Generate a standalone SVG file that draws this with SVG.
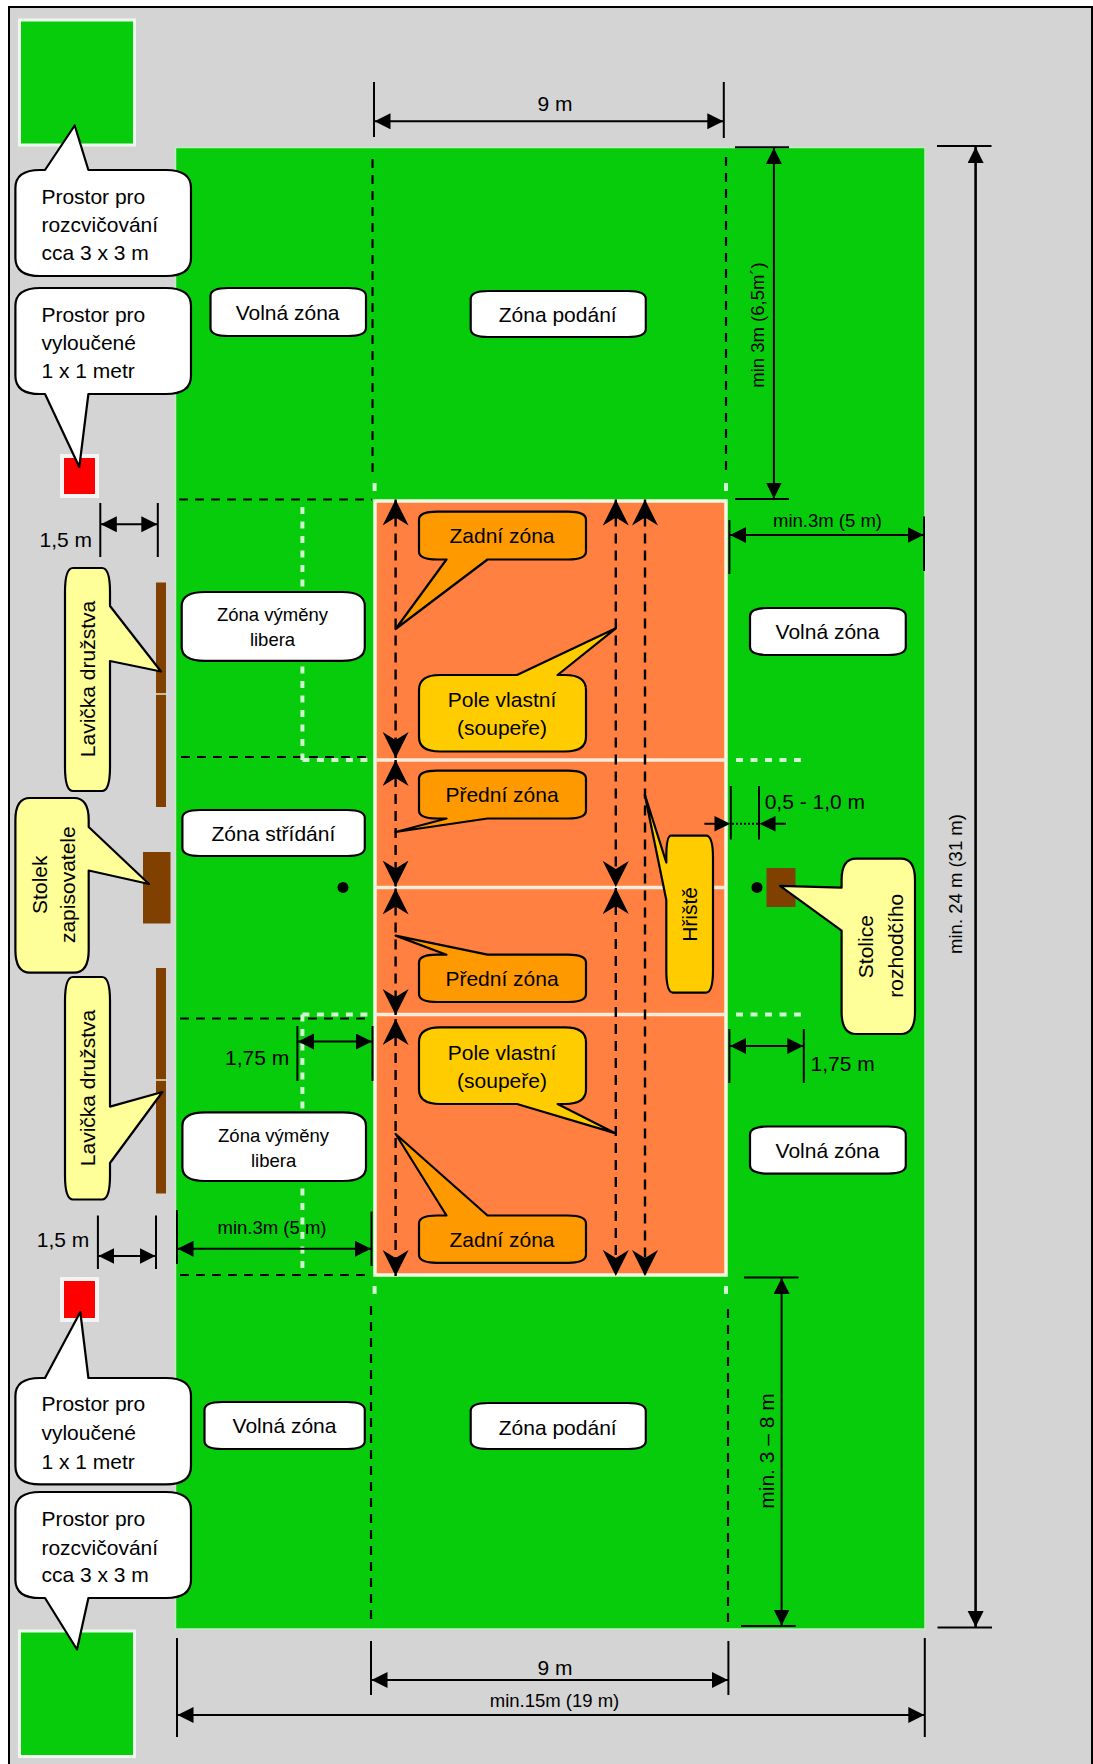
<svg xmlns="http://www.w3.org/2000/svg" width="1093" height="1764" viewBox="0 0 1093 1764">
<style>
text{font-family:"Liberation Sans",Arial,sans-serif;font-size:21px;fill:#000}
.s{font-size:18.5px}
.m{text-anchor:middle}
.w{fill:#fff}.y{fill:#ffff99}.o{fill:#ff9900}.g{fill:#ffcc00}
.c path{stroke:#000;stroke-width:2.2;stroke-linejoin:round}
.d{fill:none;stroke:#000;stroke-width:2.2;stroke-dasharray:9 7}
.p{fill:none;stroke:#000;stroke-width:2.4;stroke-dasharray:10 7}
.wd{fill:none;stroke:#d0f5d0;stroke-width:4;stroke-dasharray:7 7.5}
.t{fill:none;stroke:#000;stroke-width:2}
.a{fill:none;stroke:#000;stroke-width:2;marker-start:url(#tri);marker-end:url(#tri)}
.st{fill:none;marker-start:url(#ste);marker-end:url(#ste)}
.br{fill:#804000}
</style>
<defs>
<marker id="tri" markerUnits="userSpaceOnUse" markerWidth="17" markerHeight="17" refX="16" refY="8" orient="auto-start-reverse"><path d="M0,0L16,8L0,16Z" fill="#000"/></marker>
<marker id="ste" markerUnits="userSpaceOnUse" markerWidth="27" markerHeight="26" refX="26" refY="13" orient="auto-start-reverse"><path d="M0,0L26,13L0,26L8,13Z" fill="#000"/></marker>
</defs>
<rect x="0" y="0" width="1093" height="1764" fill="#fff"/>
<rect x="9" y="7" width="1083" height="1765" fill="#d4d4d4" stroke="#000" stroke-width="2"/>
<g id="warmup-top"><rect x="19.5" y="20" width="115" height="125" fill="#06cc0b" stroke="#eef8ee" stroke-width="3"/></g>
<g id="warmup-bottom"><rect x="19.5" y="1631" width="115" height="125.5" fill="#06cc0b" stroke="#eef8ee" stroke-width="3"/></g>
<g id="field"><rect x="175.5" y="147.5" width="749.5" height="1481.5" fill="#06cc0b" stroke="#c4eac4" stroke-width="1.5"/></g>
<g id="court">
<rect x="375" y="501" width="351" height="774" fill="#ff8040" stroke="#f4f8e4" stroke-width="3.5"/>
<path d="M375,760H726M375,887.5H726M375,1014.5H726" fill="none" stroke="#f6ecdc" stroke-width="3.5"/>
</g>
<g id="excluded-top"><rect x="62" y="456" width="35" height="40" fill="#ff0000" stroke="#f4f4f4" stroke-width="4"/></g>
<g id="excluded-bottom"><rect x="62" y="1279" width="35" height="41" fill="#ff0000" stroke="#f4f4f4" stroke-width="4"/></g>
<g id="bench-top"><rect class="br" x="156" y="582.5" width="10" height="224.5"/><path d="M155,694H167" stroke="#e8e0d0" stroke-width="1.5"/></g>
<g id="bench-bottom"><rect class="br" x="156" y="968" width="10" height="225.5"/><path d="M155,1080H167" stroke="#e8e0d0" stroke-width="1.5"/></g>
<g id="scorer-table"><rect class="br" x="143" y="852" width="27.5" height="71.5"/></g>
<g id="referee-chair"><rect class="br" x="766.5" y="868" width="29" height="39"/></g>
<g id="post-left"><circle cx="343" cy="887.4" r="5.5" fill="#000"/></g>
<g id="post-right"><circle cx="757" cy="887.4" r="5.5" fill="#000"/></g>

<g id="connectors">
<path class="d" d="M372.5,159V478M726,157V476M371,1306V1623M728,1309V1625"/>
<path class="d" d="M179,499.5H372M181,757H368M180,1018.5H368M180,1275H372"/>
<path class="wd" d="M302.4,507V760M302.4,760H368M302.4,1014.4H368M302.4,1014.4V1269M736,760H801M736,1014.4H801"/>
<path d="M374.6,483V491M726,483V491M374.6,1286V1294M726,1286V1294" stroke="#d0f5d0" stroke-width="4" fill="none"/>
<path class="p" d="M395.6,499.5V758"/><path class="st" d="M395.6,499.5V758"/>
<path class="p" d="M395.6,760V886.5"/><path class="st" d="M395.6,760V886.5"/>
<path class="p" d="M395.6,888.5V1015"/><path class="st" d="M395.6,888.5V1015"/>
<path class="p" d="M395.6,1019V1276"/><path class="st" d="M395.6,1019V1276"/>
<path class="p" d="M615.8,499.5V887"/><path class="st" d="M615.8,499.5V887"/>
<path class="p" d="M615.8,888V1276"/><path class="st" d="M615.8,888V1276"/>
<path class="p" d="M645,499.5V1276"/><path class="st" d="M645,499.5V1276"/>
<path class="t" d="M374,82V137M723.8,82V138"/>
<path class="a" d="M374.5,121.3H723.3"/>
<path class="t" d="M735,147.3H789M735,499H789"/>
<path class="a" d="M773.9,148V498.5"/>
<path class="t" d="M729.4,520V574M924,516.5V571"/>
<path class="a" d="M730,535H923.5"/>
<path class="t" d="M937,146H991.5M937.5,1627.6H992"/>
<path class="a" d="M975.6,147V1627" style="stroke-width:2.6"/>
<path class="t" d="M744,1277.5H798.5M741,1626H795.7"/>
<path class="a" d="M781.6,1278V1625.5"/>
<path class="t" d="M100.3,503V557M157.8,503V557"/>
<path class="a" d="M100.8,524.3H157.3"/>
<path class="t" d="M97.9,1215.5V1269M156,1215.5V1269"/>
<path class="a" d="M98.4,1256H155.5"/>
<path class="t" d="M297.4,1026V1081M372.5,1026V1081"/>
<path class="a" d="M298,1041.6H372"/>
<path class="t" d="M177,1210V1264M371.5,1211.5V1266"/>
<path class="a" d="M177.5,1248.8H371"/>
<path class="t" d="M729.4,1029V1083M803.8,1029V1083"/>
<path class="a" d="M730,1046H803.3"/>
<path class="t" d="M371,1641V1695M728.4,1641V1695M177,1638V1737M924.8,1638V1737"/>
<path class="a" d="M371.5,1680H728"/>
<path class="a" d="M177.5,1715H924.3"/>
<path class="t" d="M730.8,786V839.5M759,786V839.5"/>
<path class="t" d="M704.4,823.8H715M775,823.8H786"/>
<path fill="#000" d="M730.3,823.8L714.5,816V831.5Z M759.5,823.8L775.5,816V831.5Z"/>
<path d="M732,823.8H758" stroke="#000" stroke-width="2" stroke-dasharray="2 2" fill="none"/>
</g>

<g id="dim-labels">
<text x="537.5" y="111">9 m</text>
<text x="555" y="1674.5" class="m">9 m</text>
<text x="554.5" y="1707" class="s m">min.15m (19 m)</text>
<text x="827.5" y="527" class="s m">min.3m (5 m)</text>
<text x="272" y="1234.4" class="s m">min.3m (5 m)</text>
<text x="39.6" y="547">1,5 m</text>
<text x="36.8" y="1246.5">1,5 m</text>
<text x="225" y="1065">1,75 m</text>
<text x="810.5" y="1071.4">1,75 m</text>
<text x="764.7" y="809">0,5 - 1,0 m</text>
<text class="s m" transform="translate(764,325) rotate(-90)">min 3m (6,5m´)</text>
<text class="s m" transform="translate(962,884) rotate(-90)">min. 24 m (31 m)</text>
<text class="m" transform="translate(773.5,1451) rotate(-90)">min. 3 – 8 m</text>
</g>

<g class="c">
<g id="callout-warmup-top"><path class="w" d="M40,170H45L74.7,125.5L88.4,170H166Q191,170 191,188V258Q191,276 166,276H40Q15.4,276 15.4,258V188Q15.4,170 40,170Z"/>
<text x="41.4" y="204">Prostor pro</text><text x="41.4" y="232">rozcvičování</text><text x="41.4" y="260">cca 3 x 3 m</text></g>
<g id="callout-excluded-top"><path class="w" d="M40,288H166Q191,288 191,306V376Q191,394 166,394H88.4L79.3,467L45,394H40Q15.4,394 15.4,376V306Q15.4,288 40,288Z"/>
<text x="41.4" y="322">Prostor pro</text><text x="41.4" y="350">vyloučené</text><text x="41.4" y="378">1 x 1 metr</text></g>
<g id="callout-excluded-bottom"><path class="w" d="M40,1378H45L80.3,1312L88.4,1378H166Q191,1378 191,1396V1466Q191,1484.4 166,1484.4H40Q15.4,1484.4 15.4,1466V1396Q15.4,1378 40,1378Z"/>
<text x="41.4" y="1411">Prostor pro</text><text x="41.4" y="1439.7">vyloučené</text><text x="41.4" y="1468.5">1 x 1 metr</text></g>
<g id="callout-warmup-bottom"><path class="w" d="M40,1492H166Q191,1492 191,1510V1580Q191,1598 166,1598H88.4L77,1649.5L45,1598H40Q15.4,1598 15.4,1580V1510Q15.4,1492 40,1492Z"/>
<text x="41.4" y="1526">Prostor pro</text><text x="41.4" y="1554.5">rozcvičování</text><text x="41.4" y="1582">cca 3 x 3 m</text></g>

<g id="label-volna-tl"><path class="w" d="M228,288H348Q366,288 366,296V328Q366,336 348,336H228Q210.5,336 210.5,328V296Q210.5,288 228,288Z"/><text class="m" x="287.6" y="319.6">Volná zóna</text></g>
<g id="label-podani-t"><path class="w" d="M488,291H628Q645.8,291 645.8,299V329Q645.8,337 628,337H488Q470.7,337 470.7,329V299Q470.7,291 488,291Z"/><text class="m" x="557.7" y="321.5">Zóna podání</text></g>
<g id="label-volna-bl"><path class="w" d="M222,1402H347Q364.8,1402 364.8,1410V1441Q364.8,1449 347,1449H222Q204.5,1449 204.5,1441V1410Q204.5,1402 222,1402Z"/><text class="m" x="284.5" y="1433">Volná zóna</text></g>
<g id="label-podani-b"><path class="w" d="M488,1403H628Q645.8,1403 645.8,1411V1441Q645.8,1449 628,1449H488Q470.7,1449 470.7,1441V1411Q470.7,1403 488,1403Z"/><text class="m" x="557.7" y="1435">Zóna podání</text></g>
<g id="label-volna-r1"><path class="w" d="M768,608H888Q905.8,608 905.8,616V647Q905.8,655 888,655H768Q750,655 750,647V616Q750,608 768,608Z"/><text class="m" x="827.5" y="638.6">Volná zóna</text></g>
<g id="label-volna-r2"><path class="w" d="M768,1126.5H888Q905.8,1126.5 905.8,1134.5V1165.6Q905.8,1173.6 888,1173.6H768Q750,1173.6 750,1165.6V1134.5Q750,1126.5 768,1126.5Z"/><text class="m" x="827.5" y="1157.5">Volná zóna</text></g>
<g id="label-strid"><path class="w" d="M200,810H347Q364.8,810 364.8,818V848Q364.8,856 347,856H200Q182.4,856 182.4,848V818Q182.4,810 200,810Z"/><text class="m" x="273.4" y="841.4">Zóna střídání</text></g>
<g id="label-libero-1"><path class="w" d="M205,592H342Q364.8,592 364.8,606V647Q364.8,660.8 342,660.8H205Q181.7,660.8 181.7,647V606Q181.7,592 205,592Z"/><text class="s m" x="272.5" y="621.4">Zóna výměny</text><text class="s m" x="272.5" y="645.5">libera</text></g>
<g id="label-libero-2"><path class="w" d="M205,1112.4H343Q366,1112.4 366,1126V1167.5Q366,1181 343,1181H205Q182.4,1181 182.4,1167.5V1126Q182.4,1112.4 205,1112.4Z"/><text class="s m" x="273.6" y="1142">Zóna výměny</text><text class="s m" x="273.6" y="1167">libera</text></g>

<g id="callout-zadni-1"><path class="o" d="M437,511.7H568Q586,511.7 586,519.7V551.5Q586,559.5 568,559.5H487.5L395.6,629L446.5,559.5H437Q419,559.5 419,551.5V519.7Q419,511.7 437,511.7Z"/><text class="m" x="502" y="542.7">Zadní zóna</text></g>
<g id="callout-pole-1"><path class="g" d="M440,675H517L615.8,628.3L557.6,675H565Q586,675 586,690V737Q586,751.5 565,751.5H440Q419,751.5 419,737V690Q419,675 440,675Z"/><text class="m" x="502" y="706.7">Pole vlastní</text><text class="m" x="502" y="734.7">(soupeře)</text></g>
<g id="callout-predni-1"><path class="o" d="M437,770.6H568Q586,770.6 586,778.6V810.5Q586,818.5 568,818.5H487.5L395.6,832L446.5,818.5H437Q419,818.5 419,810.5V778.6Q419,770.6 437,770.6Z"/><text class="m" x="502" y="801.6">Přední zóna</text></g>
<g id="callout-predni-2"><path class="o" d="M437,954.7H446.5L395.6,935.6L487.5,954.7H568Q586,954.7 586,962.7V994Q586,1002 568,1002H437Q419,1002 419,994V962.7Q419,954.7 437,954.7Z"/><text class="m" x="502" y="986">Přední zóna</text></g>
<g id="callout-pole-2"><path class="g" d="M440,1027.4H565Q586,1027.4 586,1042V1089.5Q586,1104 565,1104H557.6L615.8,1133.4L517,1104H440Q419,1104 419,1089.5V1042Q419,1027.4 440,1027.4Z"/><text class="m" x="502" y="1060">Pole vlastní</text><text class="m" x="502" y="1088">(soupeře)</text></g>
<g id="callout-zadni-2"><path class="o" d="M437,1215.5H446.5L395.6,1134L487.5,1215.5H568Q586,1215.5 586,1223.5V1254.8Q586,1262.8 568,1262.8H437Q419,1262.8 419,1254.8V1223.5Q419,1215.5 437,1215.5Z"/><text class="m" x="502" y="1247">Zadní zóna</text></g>

<g id="callout-bench-1"><path class="y" d="M73,568H102Q110,568 110,592V606L161,671.5L110,661V767Q110,791 102,791H73Q65,791 65,767V592Q65,568 73,568Z"/><text class="m" transform="translate(95.4,679) rotate(-90)">Lavička družstva</text></g>
<g id="callout-bench-2"><path class="y" d="M73,977H102Q110,977 110,1001V1106.6L162.4,1092L110,1163V1175.5Q110,1199.5 102,1199.5H73Q65,1199.5 65,1175.5V1001Q65,977 73,977Z"/><text class="m" transform="translate(95.4,1088) rotate(-90)">Lavička družstva</text></g>
<g id="callout-scorer"><path class="y" d="M30,798H74Q88.7,798 88.7,820V827L149,884L88.7,870.5V950Q88.7,972.7 74,972.7H30Q15.4,972.7 15.4,950V820Q15.4,798 30,798Z"/><text class="m" transform="translate(47.4,884.7) rotate(-90)">Stolek</text><text class="m" transform="translate(75.4,884.7) rotate(-90)">zapisovatele</text></g>
<g id="callout-court"><path class="g" d="M671,835.7H706Q713,835.7 713,858V970Q713,992.6 706,992.6H673Q666.3,992.6 666.3,970V900L644.8,794.7L666.3,862.5V858Q666.3,835.7 671,835.7Z"/><text class="m" transform="translate(697,914.4) rotate(-90)">Hřiště</text></g>
<g id="callout-referee"><path class="y" d="M856,858.7H901Q915,858.7 915,880V1012Q915,1034 901,1034H856Q841.6,1034 841.6,1012V930.6L780,885.8L841.6,887.7V880Q841.6,858.7 856,858.7Z"/><text class="m" transform="translate(873,946.7) rotate(-90)">Stolice</text><text class="m" transform="translate(902.6,945.7) rotate(-90)">rozhodčího</text></g>
</g>
</svg>
